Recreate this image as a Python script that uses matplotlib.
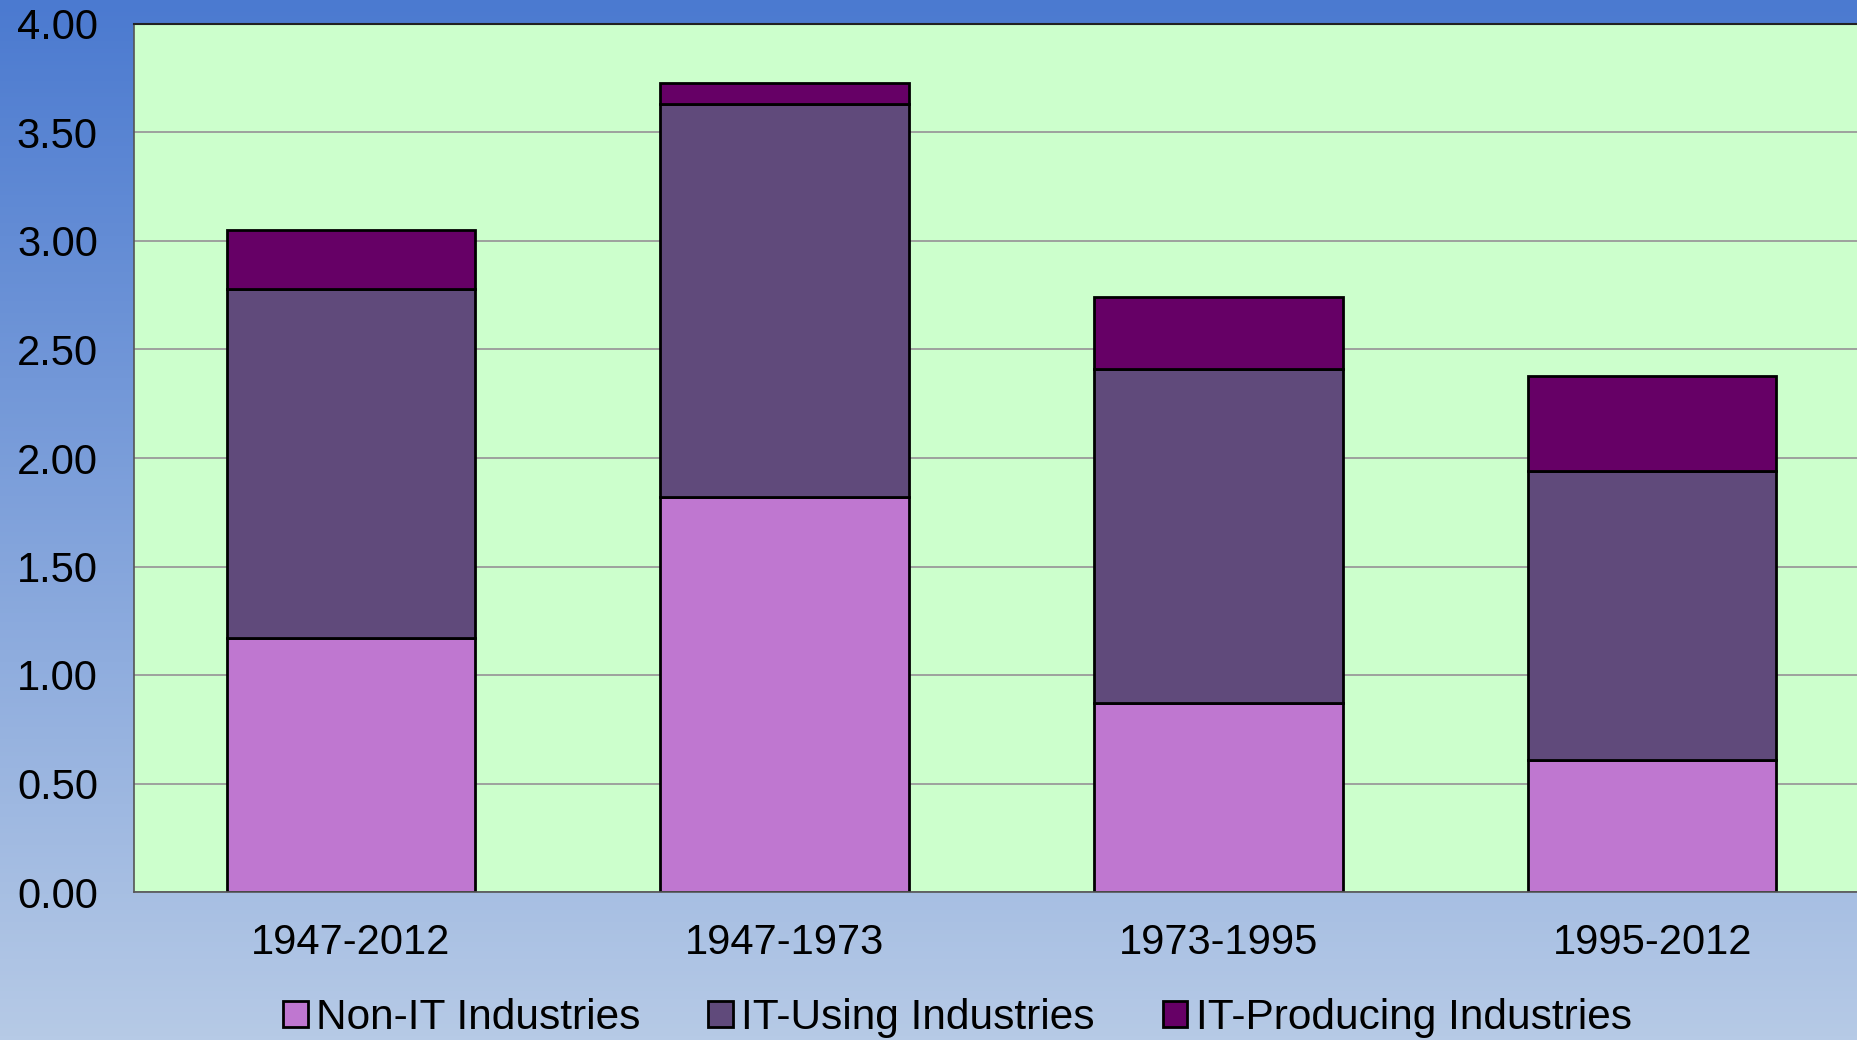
import numpy as np
import matplotlib
matplotlib.use("Agg")
import matplotlib.pyplot as plt

plt.rcParams['font.family'] = ['Liberation Sans', 'DejaVu Sans']

categories = ["1947-2012", "1947-1973", "1973-1995", "1995-2012"]
non_it = [1.17, 1.82, 0.87, 0.61]
it_using = [1.61, 1.81, 1.54, 1.33]
it_producing = [0.27, 0.10, 0.33, 0.44]
series_names = ["Non-IT Industries", "IT-Using Industries", "IT-Producing Industries"]
series_colors = ["#BF77D0", "#604A7B", "#660066"]
yticks = [0.0, 0.5, 1.0, 1.5, 2.0, 2.5, 3.0, 3.5, 4.0]

fig = plt.figure(figsize=(18.57, 10.40), dpi=100)

# gradient background
bg = fig.add_axes([0, 0, 1, 1], zorder=-10)
top = np.array([75, 122, 208]) / 255.0
bot = np.array([182, 202, 230]) / 255.0
t = np.linspace(0, 1, 256)[:, None]
grad = top[None, :] * (1 - t) + bot[None, :] * t
grad = np.repeat(grad[:, None, :], 2, axis=1)
bg.imshow(grad, aspect='auto', extent=[0, 1, 0, 1], origin='upper')
bg.set_axis_off()

ax = fig.add_axes([134 / 1857, 148 / 1040, (1869 - 134) / 1857, (892 - 24) / 1040])
ax.set_facecolor("#CCFFCC")
x = np.arange(len(categories))
w = 0.573
bottoms = np.zeros(len(categories))
for vals, name, col in zip([non_it, it_using, it_producing], series_names, series_colors):
    ax.bar(x, vals, w, bottom=bottoms, color=col, edgecolor="black", linewidth=2.0, label=name)
    bottoms = bottoms + np.array(vals)

ax.set_xlim(-0.5, 3.5)
ax.set_ylim(0, 4.0)
ax.set_yticks(yticks)
ax.set_yticklabels([f"{v:.2f}" for v in yticks])
ax.set_xticks(x)
ax.set_xticklabels(categories)
ax.tick_params(axis='both', length=0, labelsize=30)
ax.tick_params(axis='y', pad=26)
ax.tick_params(axis='x', pad=22)
ax.set_axisbelow(True)
ax.yaxis.grid(True, color="#9a9a9a", linewidth=1.3)
ax.spines['left'].set_color("#555555")
ax.spines['left'].set_linewidth(1.2)
ax.spines['bottom'].set_color("#555555")
ax.spines['bottom'].set_linewidth(1.2)
ax.spines['top'].set_color("#222222")
ax.spines['top'].set_linewidth(1.5)
ax.spines['right'].set_visible(False)

handles, labels = ax.get_legend_handles_labels()
fig.legend(handles, labels, loc='center', bbox_to_anchor=(0.5155, 0.021), ncol=3,
           frameon=False, fontsize=30.5, handlelength=0.58, handleheight=0.58,
           handletextpad=0.2, columnspacing=1.6)

fig.savefig("out.png", dpi=100)
